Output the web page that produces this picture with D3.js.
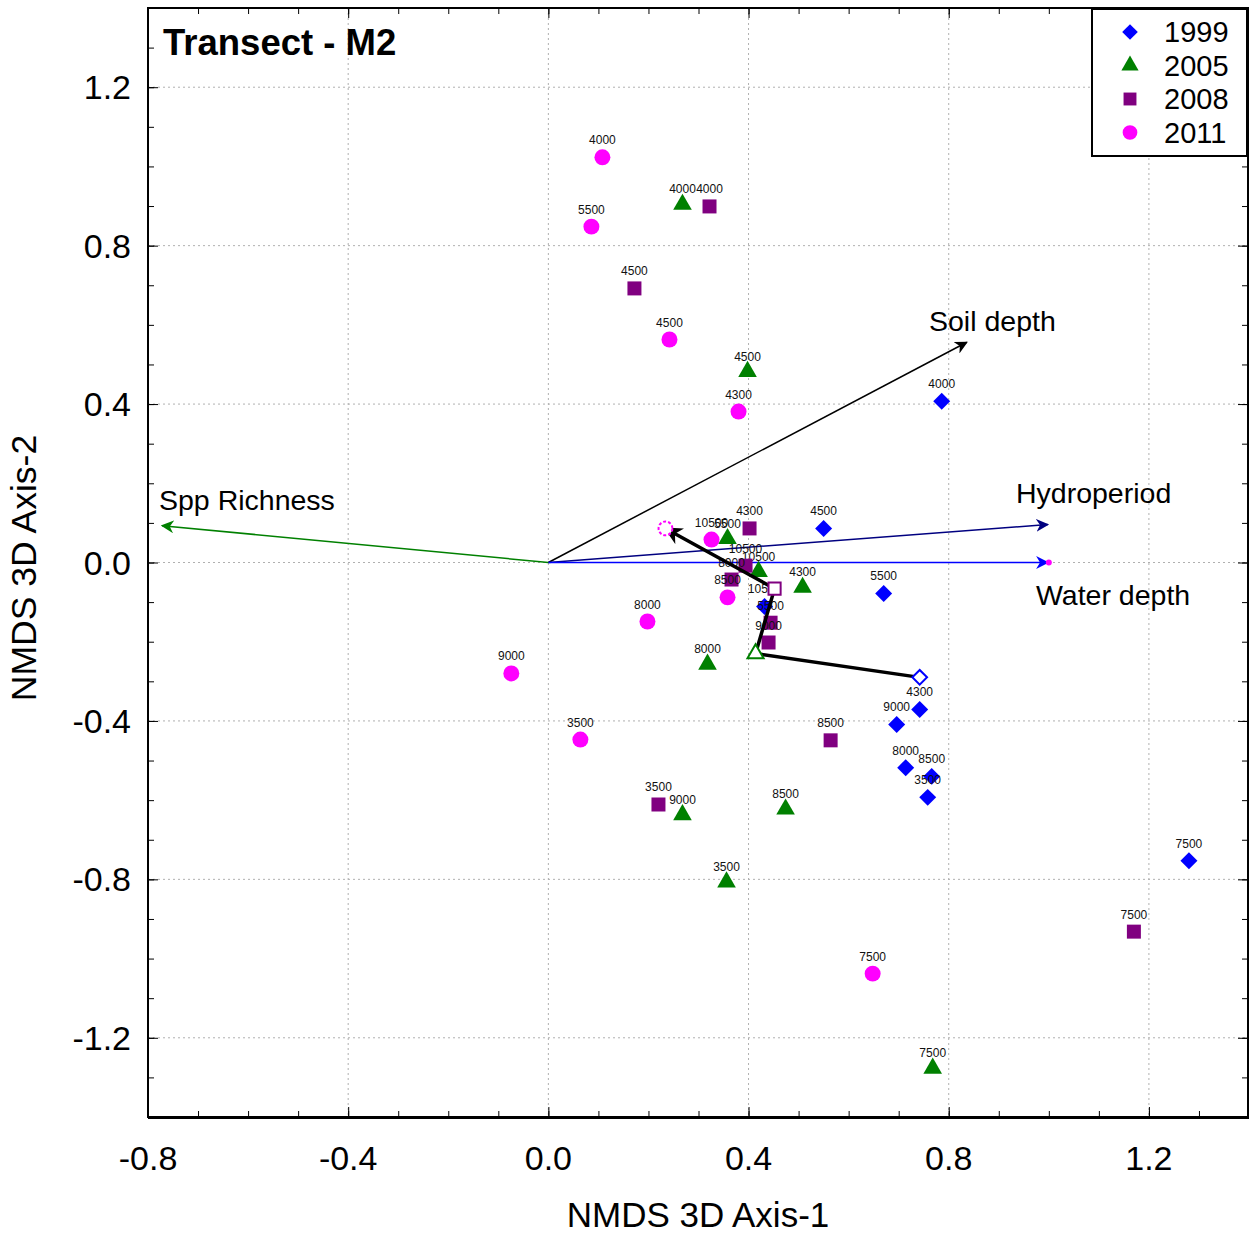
<!DOCTYPE html>
<html>
<head>
<meta charset="utf-8">
<script src="https://cdn.jsdelivr.net/npm/d3@7"></script>
<style>
body { margin: 0; background: #fff; }
text { font-family: "Liberation Sans", Arial, sans-serif; }
</style>
</head>
<body>
<div id="chart"></div>
<script>
// sample scores per year: [label, axis1, axis2]
var years = ["1999", "2005", "2008", "2011"];
var colors = ["#0000ff", "#008000", "#800080", "#ff00ff"];
var shapes = ["diamond", "triangle", "square", "circle"];

var pts1999 = [["4000",0.786,0.407],["4500",0.55,0.086],["5500",0.67,-0.078],["10500",0.432,-0.111],
	["4300",0.742,-0.371],["9000",0.696,-0.409],["8000",0.714,-0.518],["8500",0.766,-0.540],
	["3500",0.758,-0.593],["7500",1.28,-0.753]];
var pts2005 = [["4000",0.268,0.899],["4500",0.398,0.477],["5500",0.358,0.055],["10500",0.42,-0.028],
	["4300",0.508,-0.068],["8000",0.318,-0.262],["9000",0.268,-0.642],["8500",0.474,-0.628],
	["3500",0.356,-0.812],["7500",0.768,-1.282]];
var pts2008 = [["4000",0.322,0.899],["4500",0.172,0.692],["4300",0.402,0.086],["10500",0.394,-0.008],
	["8000",0.366,-0.043],["5500",0.444,-0.152],["9000",0.44,-0.202],["8500",0.564,-0.449],
	["3500",0.22,-0.611],["7500",1.17,-0.932]];
var pts2011 = [["4000",0.108,1.023],["5500",0.086,0.848],["4500",0.242,0.563],["4300",0.38,0.381],
	["10500",0.326,0.058],["8500",0.358,-0.088],["8000",0.198,-0.149],["9000",-0.074,-0.280],
	["3500",0.064,-0.447],["7500",0.648,-1.038]];
var points = [pts1999, pts2005, pts2008, pts2011];

// year centroids (trajectory)
var centroidX = [0.742, 0.414, 0.452, 0.234];
var centroidY = [-0.290, -0.230, -0.066, 0.086];

// environmental vectors
var vecNames = ["Soil depth", "Hydroperiod", "Water depth", "Spp Richness"];
var vecX = [0.836, 0.998, 0.998, -0.772];
var vecY = [0.556, 0.096, 0.0, 0.093];
var vecColors = ["#000000", "#000080", "#0000ff", "#008000"];

var xTicks = [-0.8, -0.4, 0.0, 0.4, 0.8, 1.2];
var yTicks = [-1.2, -0.8, -0.4, 0.0, 0.4, 0.8, 1.2];

var W = 1249, H = 1236;
var pl = 148, pt = 8, pr = 1249, pb = 1117;

var svg = d3.select("#chart").append("svg")
	.attr("width", W)
	.attr("height", H);

var x = d3.scaleLinear().domain([-0.8, 1.4]).range([pl, pr]);
var y = d3.scaleLinear().domain([-1.4, 1.4]).range([pb, pt]);

var defs = svg.append("defs");
defs.append("clipPath").attr("id", "clip")
	.append("rect").attr("x", pl).attr("y", pt).attr("width", pr - pl).attr("height", pb - pt);

vecColors.concat(["#000000"]).forEach(function(c, i)
{
	defs.append("marker")
		.attr("id", "arrow" + i)
		.attr("viewBox", "0 0 10 10")
		.attr("refX", 9)
		.attr("refY", 5)
		.attr("markerWidth", i == 4 ? 18 : 13)
		.attr("markerHeight", i == 4 ? 18 : 13)
		.attr("markerUnits", "userSpaceOnUse")
		.attr("orient", "auto")
		.append("path")
		.attr("d", "M0,0 L10,5 L0,10 L3,5 Z")
		.attr("fill", c);
});

// grid
var grid = svg.append("g");
grid.selectAll(".gx").data(xTicks.slice(1)).enter().append("line")
	.attr("x1", function(d) { return x(d); })
	.attr("x2", function(d) { return x(d); })
	.attr("y1", pt).attr("y2", pb)
	.attr("stroke", "#b0b0b0").attr("stroke-dasharray", "2,3");
grid.selectAll(".gy").data(yTicks).enter().append("line")
	.attr("y1", function(d) { return y(d); })
	.attr("y2", function(d) { return y(d); })
	.attr("x1", pl).attr("x2", pr)
	.attr("stroke", "#b0b0b0").attr("stroke-dasharray", "2,3");

// axes with inward ticks
var minorX = d3.range(-8, 15).map(function(v) { return v / 10; });
var minorY = d3.range(-14, 15).map(function(v) { return v / 10; });
function addAxis(axis, transform)
{
	var g = svg.append("g").attr("transform", transform).call(axis);
	g.select(".domain").remove();
	g.selectAll("line").attr("stroke", "#000");
	return g;
}
addAxis(d3.axisTop(x).tickValues(minorX).tickSize(6).tickFormat(""), "translate(0," + pb + ")");
addAxis(d3.axisTop(x).tickValues(xTicks).tickSize(10).tickFormat(""), "translate(0," + pb + ")");
addAxis(d3.axisBottom(x).tickValues(minorX).tickSize(6).tickFormat(""), "translate(0," + pt + ")");
addAxis(d3.axisBottom(x).tickValues(xTicks).tickSize(10).tickFormat(""), "translate(0," + pt + ")");
addAxis(d3.axisRight(y).tickValues(minorY).tickSize(6).tickFormat(""), "translate(" + pl + ",0)");
addAxis(d3.axisRight(y).tickValues(yTicks).tickSize(10).tickFormat(""), "translate(" + pl + ",0)");
addAxis(d3.axisLeft(y).tickValues(minorY).tickSize(6).tickFormat(""), "translate(" + (pr - 1) + ",0)");
addAxis(d3.axisLeft(y).tickValues(yTicks).tickSize(10).tickFormat(""), "translate(" + (pr - 1) + ",0)");

// tick labels
svg.append("g").selectAll("text").data(xTicks).enter().append("text")
	.attr("x", function(d) { return x(d); })
	.attr("y", 1170)
	.attr("text-anchor", "middle")
	.attr("font-size", 34)
	.text(function(d) { return d.toFixed(1); });
svg.append("g").selectAll("text").data(yTicks).enter().append("text")
	.attr("x", 131)
	.attr("y", function(d) { return y(d) + 12; })
	.attr("text-anchor", "end")
	.attr("font-size", 34)
	.text(function(d) { return d.toFixed(1); });

// frame
svg.append("rect")
	.attr("x", pl).attr("y", pt)
	.attr("width", pr - pl - 1).attr("height", pb - pt)
	.attr("fill", "none").attr("stroke", "#000").attr("stroke-width", 2);
svg.append("line")
	.attr("x1", pl).attr("x2", pr).attr("y1", pb + 1).attr("y2", pb + 1)
	.attr("stroke", "#000").attr("stroke-width", 2);

// axis titles
svg.append("text")
	.attr("x", 698).attr("y", 1227)
	.attr("text-anchor", "middle")
	.attr("font-size", 35)
	.text("NMDS 3D Axis-1");
svg.append("text")
	.attr("transform", "translate(36,568) rotate(-90)")
	.attr("text-anchor", "middle")
	.attr("font-size", 35.5)
	.text("NMDS 3D Axis-2");

var plot = svg.append("g").attr("clip-path", "url(#clip)");

// vectors
vecNames.forEach(function(n, i)
{
	plot.append("line")
		.attr("x1", x(0)).attr("y1", y(0))
		.attr("x2", x(vecX[i])).attr("y2", y(vecY[i]))
		.attr("stroke", vecColors[i])
		.attr("stroke-width", 1.5)
		.attr("marker-end", "url(#arrow" + i + ")");
});
plot.append("circle").attr("cx", x(1.0)).attr("cy", y(0)).attr("r", 3).attr("fill", "#ff00ff");
var vecLabX = [929, 1016, 1036, 159];
var vecLabY = [331, 503, 605, 510];
vecNames.forEach(function(n, i)
{
	svg.append("text")
		.attr("x", vecLabX[i]).attr("y", vecLabY[i])
		.attr("font-size", 28.5)
		.text(n);
});

function symbolFor(shape, size)
{
	if(shape == "diamond")
		return d3.symbol().type(d3.symbolSquare).size(size * 0.72)();
	if(shape == "triangle")
		return d3.symbol().type(d3.symbolTriangle).size(size)();
	if(shape == "square")
		return d3.symbol().type(d3.symbolSquare).size(size)();
	return d3.symbol().type(d3.symbolCircle).size(size)();
}
var symSize = [200, 150, 196, 200];

// points
points.forEach(function(pts, k)
{
	var g = plot.append("g");
	g.selectAll("path").data(pts).enter().append("path")
		.attr("d", symbolFor(shapes[k], symSize[k]))
		.attr("transform", function(d)
		{
			var t = "translate(" + x(d[1]) + "," + y(d[2]) + ")";
			if(shapes[k] == "diamond")
				t += " rotate(45)";
			if(shapes[k] == "triangle")
				t += " translate(0,-2)";
			return t;
		})
		.attr("fill", colors[k]);
	g.selectAll("text").data(pts).enter().append("text")
		.attr("x", function(d) { return x(d[1]); })
		.attr("y", function(d) { return y(d[2]) - 13; })
		.attr("text-anchor", "middle")
		.attr("font-size", 12)
		.attr("fill", "#111")
		.text(function(d) { return d[0]; });
});

// centroid trajectory
var traj = centroidX.map(function(v, i) { return [x(v), y(centroidY[i])]; });
plot.append("path")
	.attr("d", d3.line()(traj))
	.attr("fill", "none")
	.attr("stroke", "#000")
	.attr("stroke-width", 3.5)
	.attr("marker-end", "url(#arrow4)");
traj.forEach(function(p, k)
{
	plot.append("path")
		.attr("d", symbolFor(shapes[k], symSize[k] * 0.75))
		.attr("transform", "translate(" + p[0] + "," + p[1] + ")" + (shapes[k] == "diamond" ? " rotate(45)" : ""))
		.attr("fill", "#fff")
		.attr("stroke", colors[k])
		.attr("stroke-width", 2)
		.attr("stroke-dasharray", shapes[k] == "circle" ? "3,2" : null);
});

// title
svg.append("text")
	.attr("x", 163).attr("y", 55)
	.attr("font-size", 36.5)
	.attr("font-weight", "bold")
	.text("Transect - M2");

// legend
var lg = svg.append("g");
lg.append("rect")
	.attr("x", 1092).attr("y", 9)
	.attr("width", 155).attr("height", 147)
	.attr("fill", "#fff").attr("stroke", "#000").attr("stroke-width", 2);
years.forEach(function(yr, k)
{
	var cy = 32 + k * 33.5;
	lg.append("path")
		.attr("d", symbolFor(shapes[k], symSize[k] * 0.85))
		.attr("transform", "translate(1130," + cy + ")" + (shapes[k] == "diamond" ? " rotate(45)" : ""))
		.attr("fill", colors[k]);
	lg.append("text")
		.attr("x", 1164).attr("y", cy + 10)
		.attr("font-size", 29)
		.text(yr);
});
</script>
</body>
</html>
